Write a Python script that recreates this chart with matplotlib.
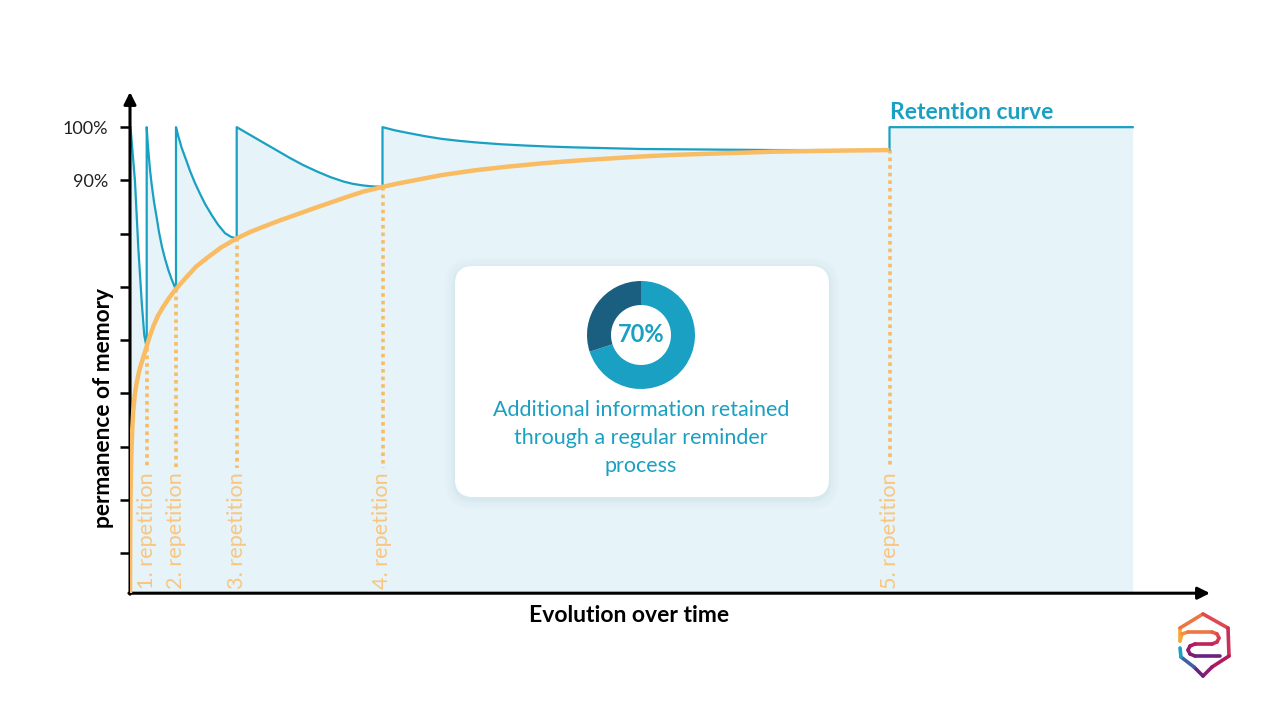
import numpy as np
import matplotlib
matplotlib.use("Agg")
import matplotlib.pyplot as plt
from matplotlib.patches import FancyBboxPatch
from matplotlib.collections import LineCollection

plt.rcParams["font.family"] = ["Lato", "DejaVu Sans"]

BLUE = "#1aa0c2"
DARK = "#1a5f80"
ORANGE = "#f9bc63"
LABEL = "#f9c680"
FILL = "#e6f3f8"

# time of each repetition (arbitrary time units) and its label
rep_t = [16.7, 46.0, 106.7, 252.5, 759.5]
rep_names = ["1. repetition", "2. repetition", "3. repetition", "4. repetition", "5. repetition"]
end_t = 1002.7

# retention curve (%), one forgetting segment per interval
seg0_t = [0.5, 2.5, 5.0, 8.3, 11.7, 14.3, 16.7]
seg0_p = [100, 95.5, 89.8, 77.4, 67.2, 60.9, 58.6]
seg1_t = [16.7, 17.5, 18.3, 20.0, 21.7, 24.0, 26.7, 29.0, 32.0, 35.0, 38.3, 41.7, 45.0, 46.0]
seg1_p = [100, 97.6, 95.7, 92.0, 89.2, 86.0, 83.0, 80.3, 77.5, 75.3, 73.2, 71.4, 69.9, 69.7]
seg2_t = [46.0, 48.0, 51.7, 56.0, 60.0, 65.0, 70.0, 75.0, 81.7, 88.0, 95.0, 101.0, 106.7]
seg2_p = [100, 98.5, 96.1, 93.9, 91.8, 89.5, 87.5, 85.6, 83.5, 81.7, 80.1, 79.4, 79.1]
seg3_t = [106.7, 120, 133.3, 146.7, 160, 173, 186.7, 200, 213.3, 223, 233.3, 242, 252.5]
seg3_p = [100, 98.55, 97.1, 95.65, 94.2, 92.9, 91.7, 90.65, 89.8, 89.35, 89.05, 88.88, 88.8]
seg4_t = [252.5, 265, 278.3, 295, 311.7, 328, 345, 370, 395, 420, 445, 478, 511.7,
          545, 578.3, 611.7, 645, 711.7, 759.5]
seg4_p = [100, 99.4, 98.9, 98.3, 97.8, 97.45, 97.15, 96.8, 96.55, 96.35, 96.2, 96.05, 95.9,
          95.85, 95.8, 95.75, 95.7, 95.7, 95.7]
seg5_t = [759.5, end_t]
seg5_p = [100, 100]

# long-term memory curve (%)
mem_t = [0, 0.2, 0.5, 1, 1.5, 2.3, 3.3, 5, 6.7, 8.3, 10, 12.5, 15, 19, 23.3, 28, 33.3,
         39, 45, 51, 56.7, 66, 76.7, 91, 106.7, 120, 133.3, 150, 166.7, 183, 200, 217,
         233.3, 253, 265, 278.3, 295, 311.7, 345, 378.3, 411.7, 445, 478, 511.7, 545,
         578.3, 611.7, 645, 678, 711.7, 759.5]
mem_p = [12.5, 22.5, 30.0, 35.6, 39.4, 43.5, 46.9, 50.1, 52.0, 53.5, 54.8, 56.3, 57.8,
         60.3, 62.6, 64.6, 66.3, 67.9, 69.4, 70.7, 71.9, 73.8, 75.4, 77.4, 79.1, 80.3,
         81.3, 82.5, 83.6, 84.7, 85.8, 86.9, 87.9, 88.8, 89.3, 89.8, 90.4, 91.0, 91.9,
         92.6, 93.2, 93.7, 94.1, 94.5, 94.8, 95.0, 95.2, 95.4, 95.5, 95.6, 95.7]

yticks = [100, 90, 80, 70, 60, 50, 40, 30, 20]
ytick_labels = ["100%", "90%", "", "", "", "", "", "", ""]

donut_vals = [70, 30]
donut_text = "70%"
card_text = "Additional information retained\nthrough a regular reminder\nprocess"

W, H = 1280, 720
fig = plt.figure(figsize=(12.8, 7.2), dpi=100)
Y0, Y1 = 12.5, 106.6
X1 = 1080
ax = fig.add_axes([130 / W, (H - 593.2) / H, 1080 / W, 501.2 / H])
ax.set_xlim(0, X1)
ax.set_ylim(Y0, Y1)

bt = seg0_t + seg1_t + seg2_t + seg3_t + seg4_t + seg5_t
bp = seg0_p + seg1_p + seg2_p + seg3_p + seg4_p + seg5_p
ax.fill_between(bt, bp, Y0, color=FILL, lw=0, zorder=1)
ax.plot(bt, bp, color=BLUE, lw=1.6, zorder=3, solid_joinstyle="round")
ax.plot(mem_t, mem_p, color=ORANGE, lw=3.2, zorder=4, solid_capstyle="butt",
        solid_joinstyle="round")

rep_low = [seg0_p[-1], seg1_p[-1], seg2_p[-1], seg3_p[-1], seg4_p[-1]]
for t, low, name in zip(rep_t, rep_low, rep_names):
    ax.plot([t, t], [low, 36.0], color=ORANGE, lw=2.6, ls=(0, (1, 1.1)),
            dash_capstyle="butt", zorder=2)
    ax.text(t, 13.3, name, rotation=90, ha="center", va="bottom",
            color=LABEL, fontsize=15.6, zorder=5)

ax.text(760, 102.8, "Retention curve", ha="left", va="center", color=BLUE,
        fontsize=16.5, fontweight="bold")

for s in ax.spines.values():
    s.set_visible(False)
ax.set_xticks([])
ax.set_yticks(yticks)
ax.set_yticklabels(ytick_labels, fontsize=13, color="#222222")
ax.tick_params(axis="y", direction="out", length=7, width=1.8, pad=9)
ax.annotate("", xy=(1, 0), xytext=(-0.001, 0), xycoords="axes fraction",
            arrowprops=dict(arrowstyle="-|>", lw=2.2, color="black",
                            mutation_scale=18, shrinkA=0, shrinkB=0))
ax.annotate("", xy=(0, 1), xytext=(0, -0.002), xycoords="axes fraction",
            arrowprops=dict(arrowstyle="-|>", lw=2.2, color="black",
                            mutation_scale=18, shrinkA=0, shrinkB=0))

fig.text(629 / W, 1 - 615 / H, "Evolution over time", ha="center", va="center",
         fontsize=16.5, fontweight="bold")
fig.text(104 / W, 1 - 408 / H, "permanence of memory", ha="center", va="center",
         rotation=90, fontsize=16.4, fontweight="bold")

# overlay in pixel coordinates for the card and the logo
ov = fig.add_axes([0, 0, 1, 1], zorder=5)
ov.set_xlim(0, W)
ov.set_ylim(H, 0)
ov.axis("off")
for pad, a in [(10, 0.05), (7, 0.07), (4, 0.09), (2, 0.12)]:
    ov.add_patch(FancyBboxPatch((455 - pad, 266 - pad + 2), 374 + 2 * pad, 231 + 2 * pad,
                                boxstyle=f"round,pad=0,rounding_size={18 + pad}",
                                fc="#b9d6df", ec="none", alpha=a))
ov.add_patch(FancyBboxPatch((455, 266), 374, 231, boxstyle="round,pad=0,rounding_size=18",
                            fc="white", ec="none"))
ov.text(641, 438, card_text, ha="center", va="center", color=BLUE, fontsize=15.5,
        linespacing=1.5)

# logo: hexagon outline plus a serpentine, coloured along its length
logo_cmap = matplotlib.colors.LinearSegmentedColormap.from_list(
    "logo", ["#f7a83a", "#e0474f", "#b3195e", "#6b1f7f", "#1aa0c2"])
outer_x = [1180, 1180, 1203, 1228, 1229, 1212, 1203, 1194, 1181, 1180]
outer_y = [641, 628, 614, 628, 656, 667, 676, 667, 657, 648]
inner_x = [1180, 1182, 1188, 1212, 1217, 1219, 1217, 1212, 1195, 1190, 1188, 1190, 1195, 1220]
inner_y = [641, 634, 632, 632, 634, 638, 642, 644, 644, 646, 650, 654, 656, 656]
for xs, ys, c0, c1 in [(outer_x, outer_y, 0.0, 1.0), (inner_x, inner_y, 0.0, 0.75)]:
    pts = np.column_stack([xs, ys]).reshape(-1, 1, 2)
    segs = np.concatenate([pts[:-1], pts[1:]], axis=1)
    lc = LineCollection(segs, cmap=logo_cmap, lw=2.6, capstyle="round", joinstyle="round")
    lc.set_array(np.linspace(c0, c1, len(segs)))
    lc.set_clim(0, 1)
    ov.add_collection(lc)

dx = fig.add_axes([(641 - 54) / W, (H - 335 - 54) / H, 108 / W, 108 / H], zorder=6)
dx.pie(donut_vals, colors=[BLUE, DARK], startangle=90, counterclock=False,
       wedgeprops=dict(width=24 / 54, lw=0))
dx.set_xlim(-1, 1)
dx.set_ylim(-1, 1)
dx.set_aspect("equal")
dx.text(0, 0, donut_text, ha="center", va="center", color=BLUE, fontsize=17,
        fontweight="bold")

fig.savefig("out.png", dpi=100, facecolor="white")
